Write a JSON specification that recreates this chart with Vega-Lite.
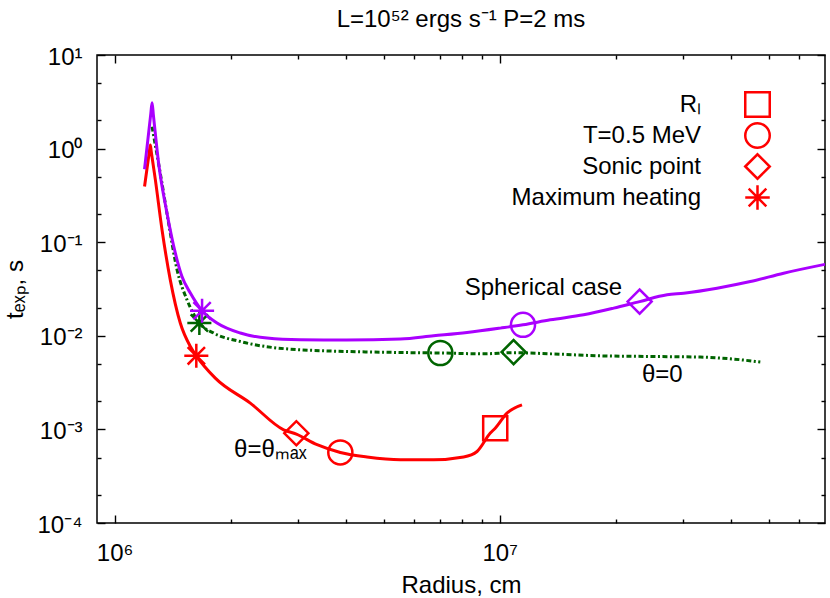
{
  "$schema": "https://vega.github.io/schema/vega-lite/v6.json",
  "width": 728,
  "height": 468,
  "autosize": {"type": "none"},
  "padding": {"left": 97, "top": 55, "right": 5, "bottom": 75},
  "background": "white",
  "title": {"text": "L=10⁵² ergs s⁻¹ P=2 ms", "fontSize": 24, "font": "Liberation Sans", "fontWeight": "normal", "anchor": "middle", "baseline": "alphabetic", "offset": -6, "color": "#000"},
  "config": {
    "view": {"stroke": "#000", "strokeWidth": 1.5},
    "font": "Liberation Sans",
    "axis": {"grid": false, "domain": false, "tickColor": "#000", "tickWidth": 1.4, "labelFont": "Liberation Sans", "labelFontSize": 24, "labelColor": "#000", "titleFont": "Liberation Sans", "titleFontSize": 24, "titleFontWeight": "normal", "titleColor": "#000", "labelOverlap": false, "labelFlush": false}
  },
  "datasets": {
    "curves": [
      {"series": "theta_max", "r": 1196000, "t": 0.393},
      {"series": "theta_max", "r": 1230200, "t": 0.9145},
      {"series": "theta_max", "r": 1238000, "t": 1.09},
      {"series": "theta_max", "r": 1245400, "t": 0.9178},
      {"series": "theta_max", "r": 1276000, "t": 0.463},
      {"series": "theta_max", "r": 1328000, "t": 0.135},
      {"series": "theta_max", "r": 1395000, "t": 0.0396},
      {"series": "theta_max", "r": 1481000, "t": 0.0137},
      {"series": "theta_max", "r": 1573000, "t": 0.00768},
      {"series": "theta_max", "r": 1630000, "t": 0.00611},
      {"series": "theta_max", "r": 1826000, "t": 0.00353},
      {"series": "theta_max", "r": 2251000, "t": 0.00191},
      {"series": "theta_max", "r": 2748000, "t": 0.00099},
      {"series": "theta_max", "r": 2965000, "t": 0.00089},
      {"series": "theta_max", "r": 3356000, "t": 0.000686},
      {"series": "theta_max", "r": 3857000, "t": 0.000567},
      {"series": "theta_max", "r": 4524000, "t": 0.000507},
      {"series": "theta_max", "r": 5523000, "t": 0.000474},
      {"series": "theta_max", "r": 6739000, "t": 0.000474},
      {"series": "theta_max", "r": 8063000, "t": 0.000507},
      {"series": "theta_max", "r": 8737000, "t": 0.000581},
      {"series": "theta_max", "r": 9459000, "t": 0.000914},
      {"series": "theta_max", "r": 9740000, "t": 0.00103},
      {"series": "theta_max", "r": 10450000, "t": 0.00149},
      {"series": "theta_max", "r": 11430000, "t": 0.00183},
      {"series": "theta_0", "r": 1251000, "t": 1.716},
      {"series": "theta_0", "r": 1260600, "t": 1.434},
      {"series": "theta_0", "r": 1314000, "t": 0.546},
      {"series": "theta_0", "r": 1381000, "t": 0.16},
      {"series": "theta_0", "r": 1453000, "t": 0.0506},
      {"series": "theta_0", "r": 1542000, "t": 0.0242},
      {"series": "theta_0", "r": 1660000, "t": 0.0137},
      {"series": "theta_0", "r": 1808000, "t": 0.0107},
      {"series": "theta_0", "r": 2121000, "t": 0.00869},
      {"series": "theta_0", "r": 3036000, "t": 0.00709},
      {"series": "theta_0", "r": 5523000, "t": 0.00663},
      {"series": "theta_0", "r": 7015000, "t": 0.00655},
      {"series": "theta_0", "r": 9087000, "t": 0.00642},
      {"series": "theta_0", "r": 10870000, "t": 0.0066},
      {"series": "theta_0", "r": 13540000, "t": 0.00642},
      {"series": "theta_0", "r": 18270000, "t": 0.00611},
      {"series": "theta_0", "r": 24630000, "t": 0.00601},
      {"series": "theta_0", "r": 33210000, "t": 0.00592},
      {"series": "theta_0", "r": 40530000, "t": 0.00564},
      {"series": "theta_0", "r": 47540000, "t": 0.00524},
      {"series": "spherical", "r": 1196000, "t": 0.602},
      {"series": "spherical", "r": 1241800, "t": 2.374},
      {"series": "spherical", "r": 1251000, "t": 3.095},
      {"series": "spherical", "r": 1260600, "t": 2.311},
      {"series": "spherical", "r": 1301000, "t": 0.698},
      {"series": "spherical", "r": 1368000, "t": 0.204},
      {"series": "spherical", "r": 1438000, "t": 0.0763},
      {"series": "spherical", "r": 1496000, "t": 0.0429},
      {"series": "spherical", "r": 1573000, "t": 0.0286},
      {"series": "spherical", "r": 1687000, "t": 0.0185},
      {"series": "spherical", "r": 1845000, "t": 0.0137},
      {"series": "spherical", "r": 2121000, "t": 0.0107},
      {"series": "spherical", "r": 2488000, "t": 0.00945},
      {"series": "spherical", "r": 3036000, "t": 0.00906},
      {"series": "spherical", "r": 4000000, "t": 0.009},
      {"series": "spherical", "r": 5523000, "t": 0.00922},
      {"series": "spherical", "r": 6739000, "t": 0.00999},
      {"series": "spherical", "r": 8228000, "t": 0.01084},
      {"series": "spherical", "r": 10040000, "t": 0.01208},
      {"series": "spherical", "r": 11500000, "t": 0.0131},
      {"series": "spherical", "r": 13540000, "t": 0.01481},
      {"series": "spherical", "r": 16530000, "t": 0.01675},
      {"series": "spherical", "r": 19780000, "t": 0.01975},
      {"series": "spherical", "r": 23100000, "t": 0.0232},
      {"series": "spherical", "r": 27220000, "t": 0.02738},
      {"series": "spherical", "r": 30060000, "t": 0.02856},
      {"series": "spherical", "r": 36700000, "t": 0.03229},
      {"series": "spherical", "r": 44790000, "t": 0.03798},
      {"series": "spherical", "r": 54660000, "t": 0.04668},
      {"series": "spherical", "r": 70000000, "t": 0.058}
    ],
    "markers": [
      {"series": "theta_max", "kind": "R_L", "r": 9740000, "t": 0.00103},
      {"series": "theta_max", "kind": "T=0.5 MeV", "r": 3857000, "t": 0.000567},
      {"series": "theta_max", "kind": "Sonic point", "r": 2965000, "t": 0.00091},
      {"series": "theta_max", "kind": "Maximum heating", "r": 1630000, "t": 0.00611},
      {"series": "theta_0", "kind": "T=0.5 MeV", "r": 7015000, "t": 0.00655},
      {"series": "theta_0", "kind": "Sonic point", "r": 10870000, "t": 0.0067},
      {"series": "theta_0", "kind": "Maximum heating", "r": 1660000, "t": 0.0137},
      {"series": "spherical", "kind": "T=0.5 MeV", "r": 11500000, "t": 0.0131},
      {"series": "spherical", "kind": "Sonic point", "r": 23100000, "t": 0.0232},
      {"series": "spherical", "kind": "Maximum heating", "r": 1687000, "t": 0.0185}
    ],
    "notes": [
      {"label": "Spherical case", "r": 12990000, "t": 0.0325},
      {"label": "θ=0", "r": 26460000, "t": 0.00383},
      {"label": "θ=θₘₐₓ", "r": 2538000, "t": 0.000606}
    ]
  },
  "layer": [
    {
      "data": {"name": "curves"},
      "transform": [{"filter": "datum.series === 'theta_0'"}],
      "mark": {"type": "line", "strokeWidth": 3, "strokeDash": [5, 2.5, 2, 2.5], "interpolate": "monotone", "clip": true},
      "encoding": {
        "x": {"field": "r", "type": "quantitative", "scale": {"type": "log", "domain": [900000, 70000000], "nice": false},
          "axis": {"orient": "bottom", "values": [1000000, 10000000], "tickSize": -8, "labelPadding": 26, "labelExpr": "datum.value < 5000000 ? '10⁶' : '10⁷'", "title": "Radius, cm", "titlePadding": 8}},
        "y": {"field": "t", "type": "quantitative", "scale": {"type": "log", "domain": [0.0001, 10], "nice": false},
          "axis": {"orient": "left", "values": [0.0001, 0.001, 0.01, 0.1, 1, 10], "tickSize": -8, "labelPadding": 23, "labelBaseline": "middle", "labelOffset": 2, "labelExpr": "datum.value < 0.0005 ? '10⁻⁴' : datum.value < 0.005 ? '10⁻³' : datum.value < 0.05 ? '10⁻²' : datum.value < 0.5 ? '10⁻¹' : datum.value < 5 ? '10⁰' : '10¹'", "title": "tₑₓₚ, s", "titlePadding": 9}},
        "color": {"field": "series", "type": "nominal", "scale": {"domain": ["theta_max", "theta_0", "spherical"], "range": ["#ff0000", "#006400", "#aa00ff"]}, "legend": null}
      }
    },
    {
      "data": {"name": "curves"},
      "transform": [{"filter": "datum.series === 'theta_max'"}],
      "mark": {"type": "line", "strokeWidth": 3, "interpolate": "monotone", "clip": true},
      "encoding": {
        "x": {"field": "r", "type": "quantitative", "scale": {"type": "log", "domain": [900000, 70000000], "nice": false},
          "axis": {"orient": "bottom", "values": [2000000, 3000000, 4000000, 5000000, 6000000, 7000000, 8000000, 9000000, 20000000, 30000000, 40000000, 50000000, 60000000], "tickSize": -4, "labels": false, "title": null}},
        "y": {"field": "t", "type": "quantitative", "scale": {"type": "log", "domain": [0.0001, 10], "nice": false},
          "axis": {"orient": "left", "values": [0.0002, 0.0005, 0.002, 0.005, 0.02, 0.05, 0.2, 0.5, 2, 5], "tickSize": -4, "labels": false, "title": null}},
        "color": {"field": "series", "type": "nominal", "scale": {"domain": ["theta_max", "theta_0", "spherical"], "range": ["#ff0000", "#006400", "#aa00ff"]}, "legend": null}
      }
    },
    {
      "data": {"name": "curves"},
      "transform": [{"filter": "datum.series === 'spherical'"}],
      "mark": {"type": "line", "strokeWidth": 3, "interpolate": "monotone", "clip": true},
      "encoding": {
        "x": {"field": "r", "type": "quantitative", "scale": {"type": "log", "domain": [900000, 70000000], "nice": false},
          "axis": {"orient": "top", "values": [1000000, 10000000], "tickSize": -8, "labels": false, "title": null}},
        "y": {"field": "t", "type": "quantitative", "scale": {"type": "log", "domain": [0.0001, 10], "nice": false},
          "axis": {"orient": "right", "values": [0.0001, 0.001, 0.01, 0.1, 1, 10], "tickSize": -8, "labels": false, "title": null}},
        "color": {"field": "series", "type": "nominal", "scale": {"domain": ["theta_max", "theta_0", "spherical"], "range": ["#ff0000", "#006400", "#aa00ff"]}, "legend": null}
      }
    },
    {
      "data": {"name": "markers"},
      "mark": {"type": "point", "filled": false, "size": 580, "strokeWidth": 2.5, "opacity": 1, "clip": true},
      "encoding": {
        "x": {"field": "r", "type": "quantitative", "scale": {"type": "log", "domain": [900000, 70000000], "nice": false},
          "axis": {"orient": "top", "values": [2000000, 3000000, 4000000, 5000000, 6000000, 7000000, 8000000, 9000000, 20000000, 30000000, 40000000, 50000000, 60000000], "tickSize": -4, "labels": false, "title": null}},
        "y": {"field": "t", "type": "quantitative", "scale": {"type": "log", "domain": [0.0001, 10], "nice": false},
          "axis": {"orient": "right", "values": [0.0002, 0.0005, 0.002, 0.005, 0.02, 0.05, 0.2, 0.5, 2, 5], "tickSize": -4, "labels": false, "title": null}},
        "color": {"field": "series", "type": "nominal", "scale": {"domain": ["theta_max", "theta_0", "spherical"], "range": ["#ff0000", "#006400", "#aa00ff"]}, "legend": null},
        "shape": {"field": "kind", "type": "nominal",
          "scale": {"domain": ["R_L", "T=0.5 MeV", "Sonic point", "Maximum heating"], "range": ["square", "circle", "diamond", "M-1,0L1,0M0,-1L0,1M-0.72,-0.72L0.72,0.72M-0.72,0.72L0.72,-0.72"]},
          "legend": {"title": null, "orient": "none", "legendX": 647, "legendY": 36, "labelFontSize": 24, "labelFont": "Liberation Sans", "labelColor": "#000", "labelAlign": "right", "labelOffset": -70, "labelLimit": 400, "symbolSize": 600, "symbolStrokeWidth": 2.5, "symbolStrokeColor": "#ff0000", "symbolFillColor": "transparent", "rowPadding": -4, "labelExpr": "datum.label == 'R_L' ? 'Rₗ' : datum.label"}}
      }
    },
    {
      "data": {"name": "notes"},
      "mark": {"type": "text", "fontSize": 24, "font": "Liberation Sans", "align": "center", "baseline": "middle", "color": "#000"},
      "encoding": {
        "x": {"field": "r", "type": "quantitative", "scale": {"type": "log", "domain": [900000, 70000000], "nice": false}, "axis": null},
        "y": {"field": "t", "type": "quantitative", "scale": {"type": "log", "domain": [0.0001, 10], "nice": false}, "axis": null},
        "text": {"field": "label", "type": "nominal"}
      }
    }
  ],
  "resolve": {"axis": {"x": "independent", "y": "independent"}}
}
